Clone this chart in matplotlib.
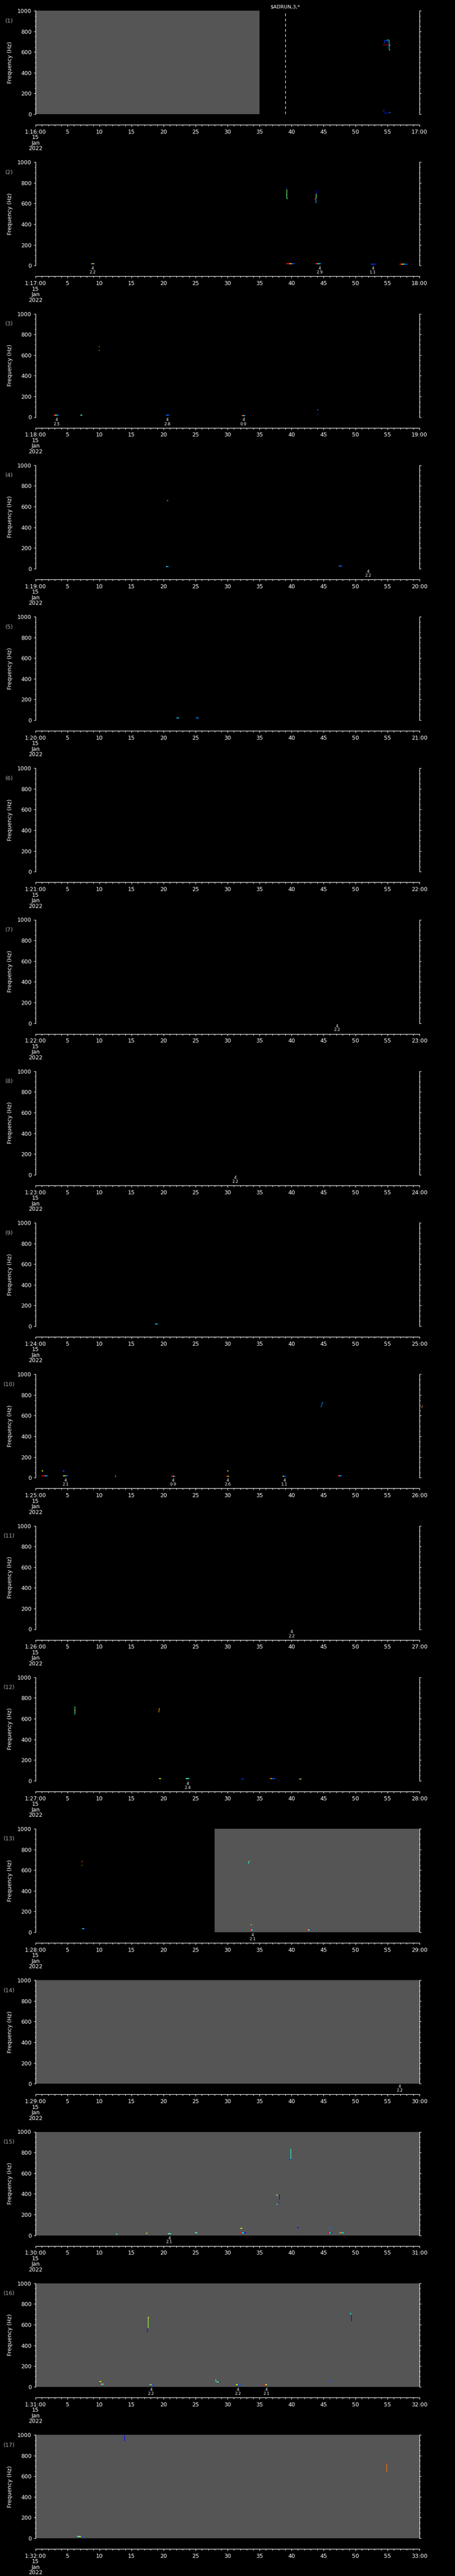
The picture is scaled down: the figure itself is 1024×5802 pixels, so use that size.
import matplotlib
matplotlib.use("Agg")
import matplotlib.pyplot as plt
from matplotlib.ticker import MultipleLocator

W, H = 1024, 5802

# one panel per minute, 01:16 .. 01:32 on 15 Jan 2022 (time axis in seconds)
start_minutes = list(range(16, 33))
date_lines = ["15", "Jan", "2022"]

# grey = no data, (t0, t1) in seconds
nodata = {1: (0, 35), 13: (28, 60), 14: (0, 60), 15: (0, 60), 16: (0, 60), 17: (0, 60)}

# event marker (panel, time, label)
events = [(1, 39.0, r"\$ADRUN,3,*")]

# spectral traces: (times, freqs, level 0..1 on jet scale)
traces = {
    1: [([54.40, 54.48, 54.48, 54.93, 54.93], [692, 692, 711, 711, 695], 0.18),
        ([54.93, 55.26, 55.26, 55.39], [716, 716, 630, 616], 0.35),
        ([55.35, 55.42], [673, 659], 0.35),
        ([54.24, 54.6, 55.0, 55.3], [666, 669, 671, 671], 0.95),
        ([55.3, 55.36], [622, 618], 0.65),
        ([54.24, 54.48], [36, 36], 0.2),
        ([54.40, 55.2], [11, 11], 0.15),
        ([55.26, 55.45], [19, 19], 0.4)],
    2: [([39.27, 39.27], [740, 650], 0.5),
        ([39.2, 39.27], [750, 742], 0.15),
        ([39.14, 39.27], [683, 683], 0.4),
        ([39.27, 39.4], [650, 650], 0.4),
        ([43.85, 43.85], [730, 698], 0.12),
        ([43.85, 43.85], [698, 650], 0.5),
        ([43.76, 43.85], [650, 612], 0.3),
        ([43.6, 43.76], [640, 642], 0.9),
        ([43.7, 43.8], [612, 612], 0.35)],
    3: [([9.85, 10.0], [685, 685], 0.75),
        ([9.85, 10.0], [645, 645], 0.7)],
    4: [([20.5, 20.7], [660, 660], 0.4)],
    10: [([44.58, 44.75, 44.80, 44.95], [681, 700, 726, 726], 0.25),
         ([60.3, 60.5], [676, 699], 0.8)],
    12: [([6.1, 6.1], [719, 700], 0.4),
         ([6.1, 6.1], [700, 650], 0.5),
         ([6.1, 6.15], [650, 636], 0.3),
         ([6.1, 6.2], [680, 680], 0.65),
         ([6.05, 6.1], [694, 694], 0.85),
         ([19.27, 19.32, 19.45], [661, 696, 696], 0.75)],
    13: [([7.20, 7.35], [676, 690], 0.85),
         ([7.22, 7.30], [646, 649], 0.65),
         ([33.25, 33.3], [657, 675], 0.35),
         ([33.3, 33.45], [675, 690], 0.5)],
    15: [([39.86, 39.86], [840, 735], 0.38),
         ([39.65, 39.9], [733, 733], 0.15),
         ([37.62, 37.75, 37.87], [397, 385, 379], 0.5),
         ([38.05, 38.1, 38.15], [389, 389, 343], 0.1),
         ([37.7, 37.8], [307, 293], 0.4),
         ([37.9, 38.15], [315, 315], 0.15)],
    16: [([17.55, 17.55], [672, 569], 0.55),
         ([17.46, 17.5], [569, 526], 0.15),
         ([17.5, 17.7], [672, 672], 0.65),
         ([49.2, 49.3], [716, 697], 0.4),
         ([49.35, 49.39], [697, 633], 0.12),
         ([28.15, 28.2, 28.5], [73, 50, 45], 0.4),
         ([46.0, 46.25], [63, 43], 0.2)],
    17: [([13.92, 13.92], [1000, 938], 0.12),
         ([54.83, 54.83], [723, 641], 0.78),
         ([54.8, 54.95], [723, 723], 0.9)],
}

# short low-frequency bursts: (t0, t1, freq, levels along the burst)
bursts = {
    2: [(8.7, 9.25, 20, [0.8, 0.65, 0.2]), (39.2, 40.5, 20, [0.9, 0.7, 0.2]),
        (43.7, 44.6, 20, [0.9, 0.4, 0.3]), (52.4, 53.2, 16, [0.2, 0.15]),
        (56.9, 58.1, 14, [0.9, 0.6, 0.3, 0.2])],
    3: [(2.8, 3.7, 20, [0.9, 0.65, 0.3, 0.2]), (7.0, 7.3, 20, [0.5, 0.35]),
        (20.4, 20.9, 20, [0.25, 0.2]), (32.2, 32.85, 16, [0.9, 0.65, 0.3, 0.2]),
        (44.0, 44.2, 69, [0.25]), (44.0, 44.2, 24, [0.15])],
    4: [(20.4, 20.8, 20, [0.4, 0.2]), (47.4, 47.9, 24, [0.3, 0.2])],
    5: [(22.0, 22.4, 20, [0.3]), (25.1, 25.5, 20, [0.25])],
    9: [(18.7, 19.1, 20, [0.3])],
    10: [(1.0, 1.9, 20, [0.9, 0.9, 0.35, 0.25]), (1.0, 1.2, 64, [0.65]),
         (4.25, 4.5, 64, [0.2]), (4.3, 5.1, 20, [0.65, 0.3, 0.2]),
         (12.4, 12.6, 14, [0.45]), (21.2, 21.9, 16, [0.9, 0.7, 0.2]),
         (29.8, 30.2, 16, [0.9, 0.6]), (29.9, 30.15, 64, [0.25, 0.65]),
         (38.6, 39.2, 16, [0.7, 0.2, 0.2]), (47.2, 47.9, 20, [0.9, 0.35, 0.2])],
    12: [(19.3, 19.55, 20, [0.65]), (23.5, 24.0, 20, [0.45, 0.35]),
         (32.2, 32.55, 17, [0.2, 0.15]), (36.7, 37.4, 19, [0.75, 0.2, 0.2]),
         (41.1, 41.5, 14, [0.2, 0.6])],
    13: [(7.3, 7.7, 36, [0.4, 0.2]), (33.6, 33.8, 71, [0.75]),
         (33.4, 34.2, 23, [0.9, 0.4, 0.2]), (42.3, 43.1, 20, [0.9, 0.5, 0.2])],
    15: [(12.6, 12.8, 10, [0.4]), (17.2, 17.5, 18, [0.75, 0.5]),
         (20.7, 21.2, 14, [0.45]), (24.9, 25.3, 24, [0.5, 0.45]),
         (32.0, 32.3, 67, [0.65]), (31.9, 32.9, 23, [0.9, 0.35, 0.15]),
         (40.9, 41.2, 77, [0.15]), (41.2, 41.4, 23, [0.9, 0.2]),
         (45.9, 46.2, 67, [0.25]), (45.7, 46.4, 23, [0.9, 0.35, 0.15]),
         (47.5, 48.2, 23, [0.75, 0.35])],
    16: [(10.0, 10.25, 50, [0.65]), (10.0, 10.7, 26, [0.9, 0.4, 0.35]),
         (17.8, 18.4, 20, [0.75, 0.4, 0.2]), (28.5, 28.9, 45, [0.5, 0.15]),
         (31.3, 32.1, 20, [0.65, 0.2, 0.2]), (35.7, 36.4, 20, [0.9, 0.65, 0.2])],
    17: [(6.5, 7.4, 17, [0.45, 0.65, 0.2])],
}

# detections printed under the panel: (time, class, value)
notes = {
    2: [(8.93, "4", "2.2"), (44.4, "4", "2.9"), (52.7, "4", "1.1")],
    3: [(3.27, "4", "2.5"), (20.6, "4", "2.8"), (32.5, "4", "0.9")],
    4: [(52.0, "4", "2.2")],
    7: [(47.1, "4", "2.2")],
    8: [(31.2, "4", "2.2")],
    10: [(4.67, "4", "2.1"), (21.5, "4", "0.9"), (30.0, "4", "2.6"), (38.9, "4", "1.1")],
    11: [(40.0, "4", "2.2")],
    12: [(23.8, "4", "2.4")],
    13: [(33.9, "4", "2.1")],
    14: [(56.9, "4", "2.2")],
    15: [(20.9, "4", "2.1")],
    16: [(18.05, "4", "2.2"), (31.65, "4", "2.2"), (36.05, "4", "2.1")],
}

jet = plt.get_cmap("jet")
PX = 72.0 / 100  # points per pixel

fig = plt.figure(figsize=(W / 100, H / 100), dpi=100, facecolor="black")

for k, m in enumerate(start_minutes):
    p = k + 1
    top = 24 + k * 341.25
    ax = fig.add_axes([80 / W, 1 - (top + 233) / H, 864 / W, 233 / H])
    ax.set_facecolor("black")
    ax.set_xlim(0, 60)
    ax.set_ylim(0, 1000)

    if p in nodata:
        ax.axvspan(*nodata[p], color="#555555", lw=0, zorder=0.5)

    for ts, fs, lev in traces.get(p, []):
        ax.plot(ts, fs, color=jet(lev), lw=1.0, solid_capstyle="butt",
                clip_on=max(ts) <= 60, zorder=2)
    for t0, t1, f, levs in bursts.get(p, []):
        step = (t1 - t0) / len(levs)
        for j, lev in enumerate(levs):
            ax.plot([t0 + j * step, t0 + (j + 1) * step], [f, f], color=jet(lev),
                    lw=1.6, solid_capstyle="butt", zorder=2)

    for ep, et, elabel in events:
        if ep == p:
            ax.axvline(et, ymin=0, ymax=0.99, color="white", lw=0.9, dashes=(5, 4.3))
            ax.annotate(elabel, xy=(et, 1), xycoords=("data", "axes fraction"),
                        xytext=(0, 8.3 * PX), textcoords="offset points",
                        ha="center", va="center", color="white", fontsize=8)

    for t, cls, val in notes.get(p, []):
        ax.annotate(cls, xy=(t, 0), xycoords=("data", "axes fraction"),
                    xytext=(0, -6.5 * PX), textcoords="offset points",
                    ha="center", va="center", color="white", fontsize=6.5)
        ax.annotate(val, xy=(t, 0), xycoords=("data", "axes fraction"),
                    xytext=(0, -15.5 * PX), textcoords="offset points",
                    ha="center", va="center", color="white", fontsize=6.5)

    # axes frame: left/right frequency axes, time axis detached below
    ax.spines["top"].set_visible(False)
    for s in ("left", "right", "bottom"):
        ax.spines[s].set_color("white")
        ax.spines[s].set_linewidth(0.9)
    ax.spines["bottom"].set_position(("outward", 24 * PX))

    ax.yaxis.set_major_locator(MultipleLocator(200))
    ax.yaxis.set_minor_locator(MultipleLocator(50))
    ax.yaxis.set_ticks_position("both")
    ax.tick_params(axis="y", which="both", direction="out", colors="white",
                   labelright=False, width=0.8)
    ax.tick_params(axis="y", which="major", length=4 * PX, pad=3.6, labelsize=9)
    ax.tick_params(axis="y", which="minor", length=2.5 * PX)

    ax.xaxis.set_major_locator(MultipleLocator(5))
    ax.xaxis.set_minor_locator(MultipleLocator(1))
    xlabels = [f"1:{m}:00\n" + "\n".join(date_lines)] + [str(v) for v in range(5, 60, 5)] + [f"{m + 1}:00"]
    ax.set_xticks(range(0, 61, 5))
    ax.set_xticklabels(xlabels, linespacing=0.95)
    ax.tick_params(axis="x", which="both", direction="out", colors="white", width=0.8)
    ax.tick_params(axis="x", which="major", length=4.3 * PX, pad=4, labelsize=9)
    ax.tick_params(axis="x", which="minor", length=2.6 * PX)

    ax.text(-57 / 864, 0.5, "Frequency (Hz)", rotation=90, ha="center", va="center",
            color="white", fontsize=9, transform=ax.transAxes)
    ax.text(-59 / 864, 1 - 23 / 233, f"({p})", ha="center", va="center",
            color="#a8a8a8", fontsize=9, transform=ax.transAxes)

fig.savefig("out.png", dpi=100, facecolor="black")
